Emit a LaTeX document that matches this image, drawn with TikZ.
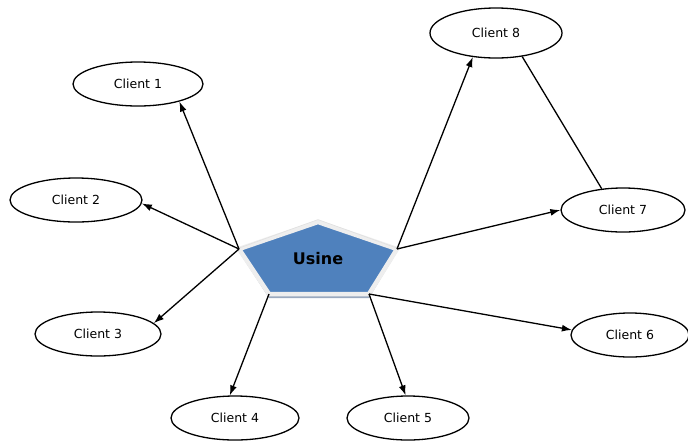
\documentclass[tikz,border=0pt]{standalone}
\usepackage{fontspec}
\setmainfont{DejaVu Sans}
\usetikzlibrary{arrows.meta,shapes.geometric,calc}
\definecolor{usineblue}{HTML}{4F81BD}
\definecolor{usineedge}{HTML}{EEEEEE}
\definecolor{usineshadow}{HTML}{9AA9BF}
\tikzset{
  client/.style={draw=black, line width=1.3pt, ellipse, inner sep=0pt,
    minimum width=128pt, minimum height=44pt, font=\fontsize{12.5}{14}\selectfont},
  link/.style={draw=black, line width=1.3pt},
  arr/.style={link, -{Latex[length=10pt,width=7pt]}}
}
\begin{document}
\begin{tikzpicture}[x=1pt,y=-1pt]
\useasboundingbox (0,0) rectangle (688,445);
% pentagon corners
\coordinate (pt) at (318,222);
\coordinate (pl) at (239,249);
\coordinate (pr) at (397,249);
\coordinate (pbl) at (269,294);
\coordinate (pbr) at (369,294);
% shadow
\fill[usineshadow] ($(pt)+(0,3)$) -- ($(pr)+(0,3)$) -- ($(pbr)+(0,4)$) -- ($(pbl)+(0,4)$) -- ($(pl)+(0,3)$) -- cycle;
\filldraw[fill=usineblue, draw=usineedge, line width=4.5pt, line join=miter]
  (pt) -- (pr) -- (pbr) -- (pbl) -- (pl) -- cycle;
\draw[draw=black!12, line width=0.6pt] ($(pl)+(-2.5,0)$) -- ($(pt)+(0,-2.4)$) -- ($(pr)+(2.5,0)$);
\node[font=\fontsize{16}{18}\selectfont\bfseries] (usine) at (318,259) {Usine};
% clients
\node[client, minimum width=130pt] (c1) at (138,84) {Client 1};
\node[client, minimum width=132pt] (c2) at (76,200) {Client 2};
\node[client, minimum width=126pt] (c3) at (98,334) {Client 3};
\node[client] (c4) at (235,418) {Client 4};
\node[client, minimum width=122pt] (c5) at (408,418) {Client 5};
\node[client, minimum width=118pt] (c6) at (630,335) {Client 6};
\node[client, minimum width=124pt] (c7) at (623,210) {Client 7};
\node[client, minimum width=132pt, minimum height=50pt] (c8) at (496,33) {Client 8};
% connectors
\draw[arr] (pl) -- (c1.-23);
\draw[arr] (pl) -- (c2.-3);
\draw[arr] (pl) -- (c3.11);
\draw[arr] (pbl) -- (c4.103);
\draw[arr] (pbr) -- (c5.96);
\draw[arr] (pbr) -- (c6.175);
\draw[arr] (pr) -- (c7.180);
\draw[arr] (pr) -- (c8.-134);
\draw[link] (c8.-42) -- (c7.135);
\end{tikzpicture}
\end{document}
